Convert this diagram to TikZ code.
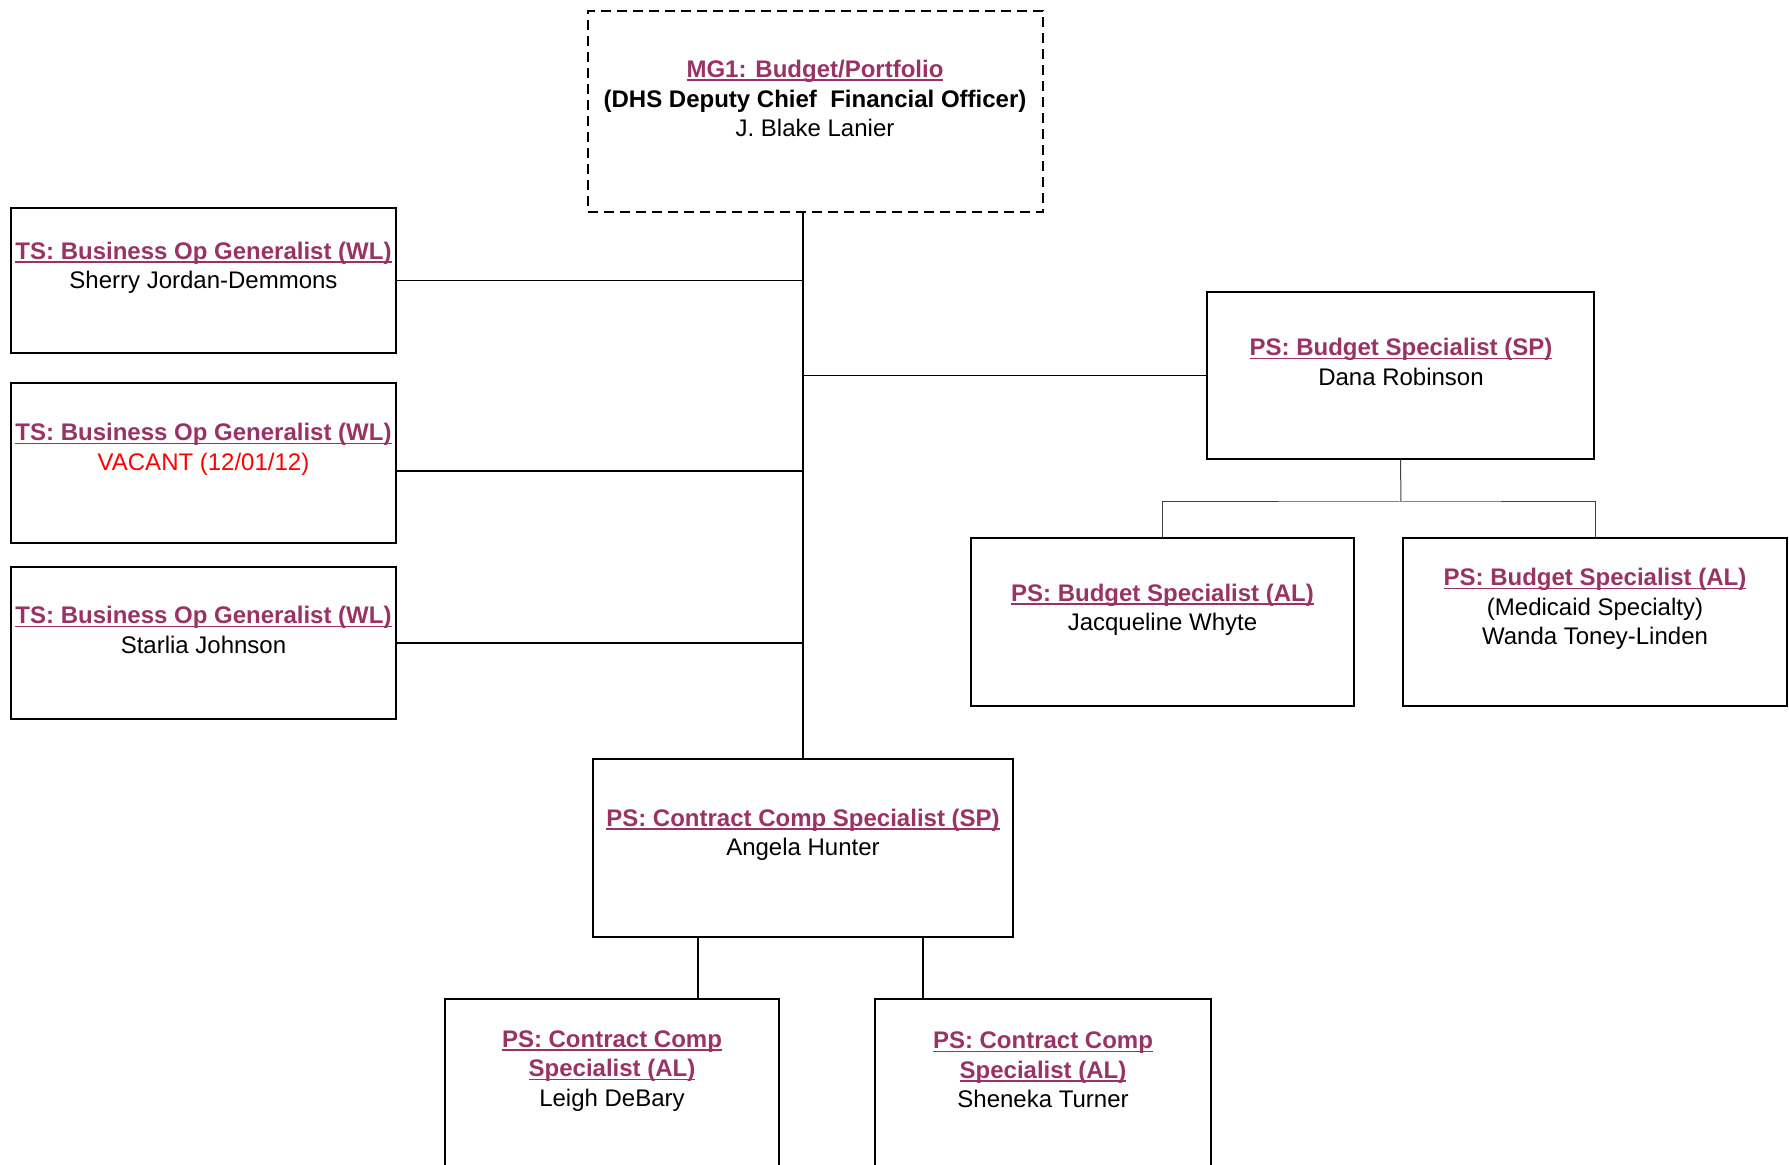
\documentclass[tikz,border=0pt]{standalone}
\usepackage{fontspec}
\setmainfont{Liberation Sans}
\usepackage{xcolor}
\usepackage{tikz}
\definecolor{plum}{RGB}{153,51,102}
\newcommand{\ttl}[1]{{\color{plum}\bfseries\setbox0\hbox{#1}\rlap{\rule[-1.7pt]{\wd0}{0.8pt}}\box0}}

\begin{document}
\begin{tikzpicture}[x=0.5pt, y=-0.5pt,
  box/.style={draw, line width=1pt, inner sep=0pt},
  txt/.style={align=center, inner sep=0pt, font=\fontsize{12}{14.75}\selectfont},
  link/.style={line width=0.8pt},
  thinlink/.style={line width=0.5pt, black!75}]
\useasboundingbox (0,0) rectangle (1789,1165);
\clip (0,0) rectangle (1789,1165);

% Draw boxes
\node[box, dashed, dash pattern=on 5pt off 3pt, minimum width=227.5pt, minimum height=100.5pt] (mg) at (815.5,111.5) {};
\node[box, minimum width=192.5pt, minimum height=72.5pt] (ts1) at (203.5,280.5) {};
\node[box, minimum width=192.5pt, minimum height=80pt] (ts2) at (203.5,463) {};
\node[box, minimum width=192.5pt, minimum height=76pt] (ts3) at (203.5,643) {};
\node[box, minimum width=193.5pt, minimum height=83.5pt] (dana) at (1400.5,375.5) {};
\node[box, minimum width=191.5pt, minimum height=84pt] (jac) at (1162.5,622) {};
\node[box, minimum width=192pt, minimum height=84pt] (wanda) at (1595,622) {};
\node[box, minimum width=210pt, minimum height=89pt] (cs) at (803,848) {};
\node[box, minimum width=167pt, minimum height=100.5pt] (lee) at (612,1099.5) {};
\node[box, minimum width=168pt, minimum height=100.5pt] (tur) at (1043,1099.5) {};

% Texts
\node[txt] (mgtxt) at (815,98.5) {\ttl{MG1: Budget/Portfolio}\\\textbf{(DHS Deputy Chief~ Financial Officer)}\\J. Blake Lanier};
\node[txt] (ts1txt) at (203.5,268) {\ttl{TS: Business Op Generalist (WL)}\\Sherry Jordan-Demmons};
\node[txt] (ts2txt) at (203.5,449.5) {\ttl{TS: Business Op Generalist (WL)}\\\color{red}VACANT (12/01/12)};
\node[txt] (ts3txt) at (203.5,630) {\ttl{TS: Business Op Generalist (WL)}\\Starlia Johnson};
\node[txt] (danatxt) at (1401,362) {\ttl{PS: Budget Specialist (SP)}\\Dana Robinson};
\node[txt] (jactxt) at (1162.5,610) {\ttl{PS: Budget Specialist (AL)}\\Jacqueline Whyte};
\node[txt] (wandatxt) at (1595,609) {\ttl{PS: Budget Specialist (AL)}\\(Medicaid Specialty)\\Wanda Toney-Linden};
\node[txt] (cstxt) at (803,835) {\ttl{PS: Contract Comp Specialist (SP)}\\Angela Hunter};
\node[txt] (leetxt) at (612,1071) {\ttl{PS: Contract Comp}\\\ttl{Specialist (AL)}\\Leigh DeBary};
\node[txt] (turtxt) at (1043,1070) {\ttl{PS: Contract Comp}\\\ttl{Specialist (AL)}\\Sheneka Turner};

% Connectors
\draw[link] (mg.south -| cs.north) -- (cs.north);
\draw[link] (ts1.east) -- (ts1.east -| cs.north);
\draw[link] ([yshift=-4pt]ts2.east) -- ([yshift=-4pt]ts2.east -| cs.north);
\draw[link] (ts3.east) -- (ts3.east -| cs.north);
\draw[link] (dana.west) -- (dana.west -| cs.north);
\coordinate (bus) at (1401,502);
\draw[thinlink] (dana.south) -- (bus);
\draw[thinlink] (jac.north) |- (bus) -| (wanda.north);
\draw[link] ([xshift=43pt]lee.north) -- ([xshift=43pt]lee.north |- cs.south);
\draw[link] ([xshift=-60pt]tur.north) -- ([xshift=-60pt]tur.north |- cs.south);
\end{tikzpicture}
\end{document}
